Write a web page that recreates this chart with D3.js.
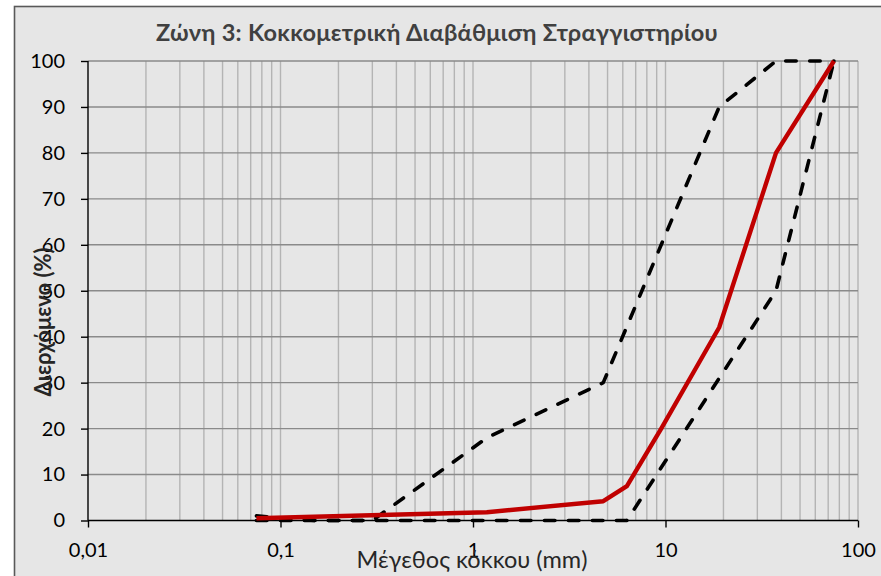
<!DOCTYPE html>
<html>
<head>
<meta charset="utf-8">
<script src="https://cdn.jsdelivr.net/npm/d3@7"></script>
<style>
  html, body { margin: 0; padding: 0; background: #ffffff; }
  svg { display: block; }
  text { font-family: "Lato", "Open Sans", sans-serif; }
</style>
</head>
<body>
<svg id="chart" width="881" height="576"></svg>
<script>
// Grading envelope for drain filter material (zone 3) and the measured curve
const titleText = "Ζώνη 3: Κοκκομετρική Διαβάθμιση Στραγγιστηρίου";
const xLabel = "Μέγεθος κόκκου (mm)";
const yLabel = "Διερχόμενο (%)";

// sieve size (mm) / percent passing
const sampleSize = [0.075, 1.18, 4.75, 6.3, 9.5, 19, 37.5, 75];
const samplePass = [0.5, 1.8, 4.2, 7.5, 20, 42, 80, 100];

const upperSize = [0.075, 0.15, 0.3, 1.18, 4.75, 9.5, 19, 37.5, 75];
const upperPass = [1, 0, 0, 18, 30, 60, 90, 100, 100];

const lowerSize = [0.075, 6.3, 37.5, 75];
const lowerPass = [0, 0, 50, 100];

const xTicks = [0.01, 0.1, 1, 10, 100];
const xTickLabels = ["0,01", "0,1", "1", "10", "100"];
const yTicks = [0, 10, 20, 30, 40, 50, 60, 70, 80, 90, 100];

const svg = d3.select("#chart");

// chart area with frame
svg.append("rect")
  .attr("x", 14.5).attr("y", 6.5)
  .attr("width", 900).attr("height", 600)
  .attr("fill", "#e6e6e6")
  .attr("stroke", "#595959")
  .attr("stroke-width", 1.6);

const x = d3.scaleLog().domain([0.01, 100]).range([88, 858]);
const y = d3.scaleLinear().domain([0, 100]).range([520.5, 61]);

// vertical grid: every 1..9 × decade
const minorX = [];
[0.01, 0.1, 1, 10].forEach(dec => {
  for (let k = 1; k <= 9; k++) minorX.push(dec * k);
});
minorX.push(100);

svg.append("g")
  .selectAll("line")
  .data(minorX.filter(v => v > 0.01))
  .join("line")
  .attr("x1", d => x(d)).attr("x2", d => x(d))
  .attr("y1", y(100)).attr("y2", y(0))
  .attr("stroke", "#b4b4b4")
  .attr("stroke-width", 1.4);

svg.append("g")
  .selectAll("line")
  .data(yTicks.filter(v => v > 0))
  .join("line")
  .attr("x1", x(0.01)).attr("x2", x(100))
  .attr("y1", d => y(d)).attr("y2", d => y(d))
  .attr("stroke", "#8a8a8a")
  .attr("stroke-width", 1.4);

// axes
const yAxis = d3.axisLeft(y).tickValues(yTicks).tickSize(7).tickPadding(16).tickFormat(d3.format("d"));
const gy = svg.append("g").attr("transform", `translate(${x(0.01)},0)`).call(yAxis);
gy.select(".domain").attr("d", `M0,${y(100)}V${y(0)}`).attr("stroke", "#000").attr("stroke-width", 1.4);
gy.selectAll(".tick line").attr("stroke", "#000").attr("stroke-width", 1.4);
gy.selectAll(".tick text")
  .attr("font-size", 20).attr("fill", "#000")
  .style("font-family", "Lato, sans-serif");

const xAxis = d3.axisBottom(x).tickValues(xTicks).tickSize(7).tickPadding(15)
  .tickFormat((d, i) => xTickLabels[i]);
const gx = svg.append("g").attr("transform", `translate(0,${y(0)})`).call(xAxis);
gx.select(".domain").attr("d", `M${x(0.01)},0H${x(100)}`).attr("stroke", "#000").attr("stroke-width", 1.4);
gx.selectAll(".tick line").attr("stroke", "#000").attr("stroke-width", 1.4);
gx.selectAll(".tick text")
  .attr("font-size", 20).attr("fill", "#000")
  .style("font-family", "Lato, sans-serif");

// series
const line = d3.line().x(d => x(d[0])).y(d => y(d[1]));
const toPts = (s, p) => s.map((v, i) => [v, p[i]]);

[[upperSize, upperPass], [lowerSize, lowerPass]].forEach(([s, p]) => {
  svg.append("path")
    .datum(toPts(s, p))
    .attr("d", line)
    .attr("fill", "none")
    .attr("stroke", "#000")
    .attr("stroke-width", 3.6)
    .attr("stroke-linecap", "round")
    .attr("stroke-linejoin", "round")
    .attr("stroke-dasharray", "10.5 13.5");
});

svg.append("path")
  .datum(toPts(sampleSize, samplePass))
  .attr("d", line)
  .attr("fill", "none")
  .attr("stroke", "#c00000")
  .attr("stroke-width", 4.4)
  .attr("stroke-linejoin", "round");

// titles
svg.append("text")
  .attr("x", 437).attr("y", 41)
  .attr("text-anchor", "middle")
  .attr("font-size", 23.5).attr("font-weight", "bold")
  .attr("letter-spacing", 0.3)
  .attr("fill", "#404040")
  .text(titleText);

svg.append("text")
  .attr("x", 472).attr("y", 568)
  .attr("text-anchor", "middle")
  .attr("font-size", 23.5)
  .attr("fill", "#262626")
  .text(xLabel);

svg.append("text")
  .attr("transform", "translate(51,322) rotate(-90)")
  .attr("text-anchor", "middle")
  .attr("font-size", 22).attr("font-weight", "bold")
  .attr("fill", "#262626")
  .text(yLabel);
</script>
</body>
</html>
